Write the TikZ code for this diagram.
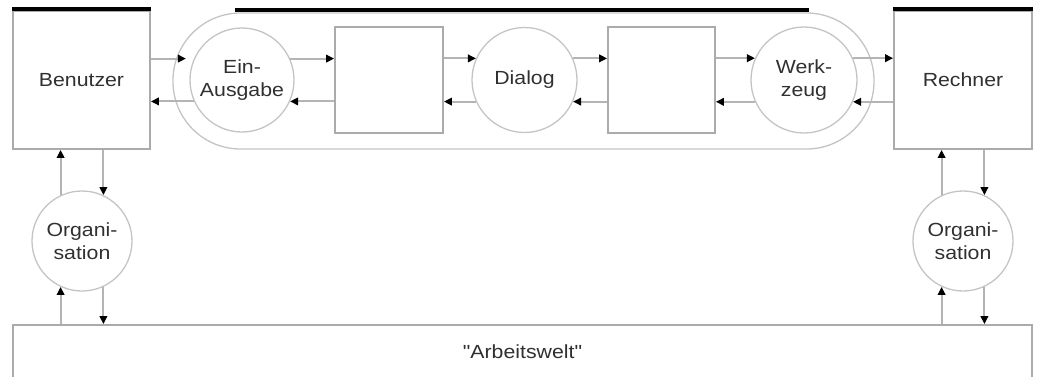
\documentclass[tikz,border=0pt]{standalone}
\usepackage{fontspec}
\newfontfamily\dfont{Liberation Sans}[FakeStretch=1.12]
\usetikzlibrary{arrows.meta}
\definecolor{boxgrey}{HTML}{ABABAB}
\definecolor{ringgrey}{HTML}{C4C4C4}
\definecolor{linegrey}{HTML}{B4B4B4}
\definecolor{txt}{HTML}{303030}
\tikzset{
  lbl/.style={font=\dfont\fontsize{19}{23.5}\selectfont, text=txt, align=center, inner sep=0pt},
  unit/.style={draw=boxgrey, line width=1.8pt, rectangle, inner sep=0pt},
  proc/.style={draw=ringgrey, line width=1.3pt, circle, inner sep=0pt, minimum size=#1},
  proc/.default=104pt,
  flow/.style={draw=linegrey, line width=2pt, -{Triangle[length=8pt,width=7.5pt,color=black]}},
  bar/.style={draw=black, line width=3.6pt}
}
\begin{document}
\begin{tikzpicture}[x=1pt, y=-1pt]
\useasboundingbox (0,0) rectangle (1037,376);

% the ring enclosing the interface chain
\node[draw=ringgrey, line width=1.3pt, rectangle, rounded corners=67.5pt,
      minimum width=701pt, minimum height=136pt, inner sep=0pt] (ring) at (523.5,81) {};

% outer units
\node[unit, minimum width=137pt, minimum height=138pt, lbl] (ben) at (81.5,80) {Benutzer};
\node[unit, minimum width=138pt, minimum height=138pt, lbl] (rec) at (963,80) {Rechner};

% interface chain
\node[proc, lbl] (ea) at (242,80) {Ein-\\Ausgabe};
\node[unit, minimum width=108pt, minimum height=106pt] (b2) at (389,80) {};
\node[proc=105pt, lbl] (dia) at (524.5,80) {Dialog};
\node[unit, minimum width=107pt, minimum height=106pt] (b3) at (661.5,80) {};
\node[proc=106pt, lbl] (wz) at (804,80) {Werk-\\zeug};

% organisation and working environment
\node[proc=100pt, lbl] (org1) at (82,241) {Organi-\\sation};
\node[proc=100pt, lbl] (org2) at (963,241) {Organi-\\sation};
\node[unit, minimum width=1019pt, minimum height=70pt] (arb) at (522.5,360) {};
\node[lbl] (arbtxt) at (522.5,352) {"Arbeitswelt"};

% heavy bars on top
\draw[bar] ([yshift=1pt]ben.north west) -- ([yshift=1pt]ben.north east);
\draw[bar] ([yshift=1pt]rec.north west) -- ([yshift=1pt]rec.north east);
\draw[bar] ([xshift=63pt,yshift=2.5pt]ring.north west) -- ([xshift=-66pt,yshift=2.5pt]ring.north east);

% horizontal flows
\draw[flow, shorten >=8pt] (ben.east |- ea.156) -- (ea.156);
\draw[flow] (ea.204) -- (ben.east |- ea.204);
\draw[flow] (ea.24) -- (b2.west |- ea.24);
\draw[flow] (b2.west |- ea.336) -- (ea.336);
\draw[flow] (b2.east |- dia.156) -- (dia.156);
\draw[flow] (dia.204) -- (b2.east |- dia.204);
\draw[flow] (dia.24) -- (b3.west |- dia.24);
\draw[flow] (b3.west |- dia.336) -- (dia.336);
\draw[flow] (b3.east |- wz.156) -- (wz.156);
\draw[flow] (wz.204) -- (b3.east |- wz.204);
\draw[flow] (wz.24) -- (rec.west |- wz.24);
\draw[flow] (rec.west |- wz.336) -- (wz.336);

% vertical flows
\draw[flow] (org1.115) -- (org1.115 |- ben.south);
\draw[flow] (org1.65 |- ben.south) -- (org1.65);
\draw[flow] (org1.245 |- arb.north) -- (org1.245);
\draw[flow] (org1.295) -- (org1.295 |- arb.north);
\draw[flow] (org2.115) -- (org2.115 |- rec.south);
\draw[flow] (org2.65 |- rec.south) -- (org2.65);
\draw[flow] (org2.245 |- arb.north) -- (org2.245);
\draw[flow] (org2.295) -- (org2.295 |- arb.north);
\end{tikzpicture}
\end{document}
